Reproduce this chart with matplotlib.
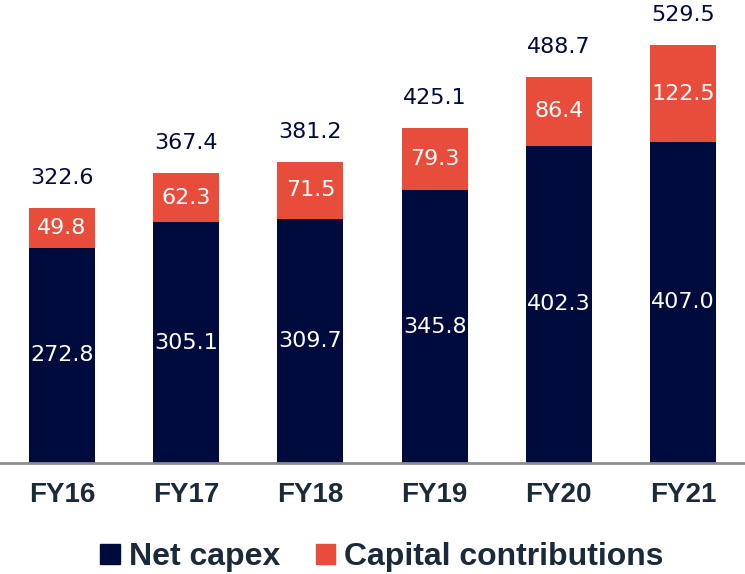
import matplotlib.pyplot as plt
from matplotlib.patches import Patch

years = ['FY16', 'FY17', 'FY18', 'FY19', 'FY20', 'FY21']
net_capex = [272.8, 305.1, 309.7, 345.8, 402.3, 407.0]
contrib = [49.8, 62.3, 71.5, 79.3, 86.4, 122.5]
totals = [322.6, 367.4, 381.2, 425.1, 488.7, 529.5]

navy = '#000B3D'
red = '#E84C3A'
num_font = ['DejaVu Sans']

fig = plt.figure(figsize=(7.45, 5.74), dpi=100)
ax = fig.add_axes([0, 111/574, 1, 463/574])

x = list(range(len(years)))
w = 0.53
ax.bar(x, net_capex, width=w, color=navy)
ax.bar(x, contrib, width=w, bottom=net_capex, color=red)

for i in x:
    ax.text(i, net_capex[i] / 2, '%.1f' % net_capex[i], ha='center', va='center',
            color='white', fontsize=16, family=num_font)
    ax.text(i, net_capex[i] + contrib[i] / 2, '%.1f' % contrib[i], ha='center', va='center',
            color='white', fontsize=16, family=num_font)
    ax.text(i, totals[i] + 38, '%.1f' % totals[i], ha='center', va='center',
            color=navy, fontsize=16, family=num_font)

ax.set_xlim(-0.499, 5.499)
ax.set_ylim(0, 586.8)
for s in ['top', 'right', 'left']:
    ax.spines[s].set_visible(False)
ax.spines['bottom'].set_color('#8c8c8c')
ax.spines['bottom'].set_linewidth(2)
ax.set_yticks([])
ax.set_xticks(x)
ax.set_xticklabels(years, fontsize=20, fontweight='bold', family='Liberation Sans', color='#1a2a3a')
ax.tick_params(axis='x', length=0, pad=14)

handles = [Patch(color=navy, label='Net capex'), Patch(color=red, label='Capital contributions')]
fig.legend(handles=handles, loc='center', bbox_to_anchor=(0.513, 1 - 557/574), ncol=2, frameon=False,
           prop={'family': 'Liberation Sans', 'weight': 'bold', 'size': 23},
           handlelength=0.6, handleheight=0.6, handletextpad=0.3, columnspacing=1.1, labelcolor='#1a2a3a')

plt.savefig('out.png', dpi=100)
